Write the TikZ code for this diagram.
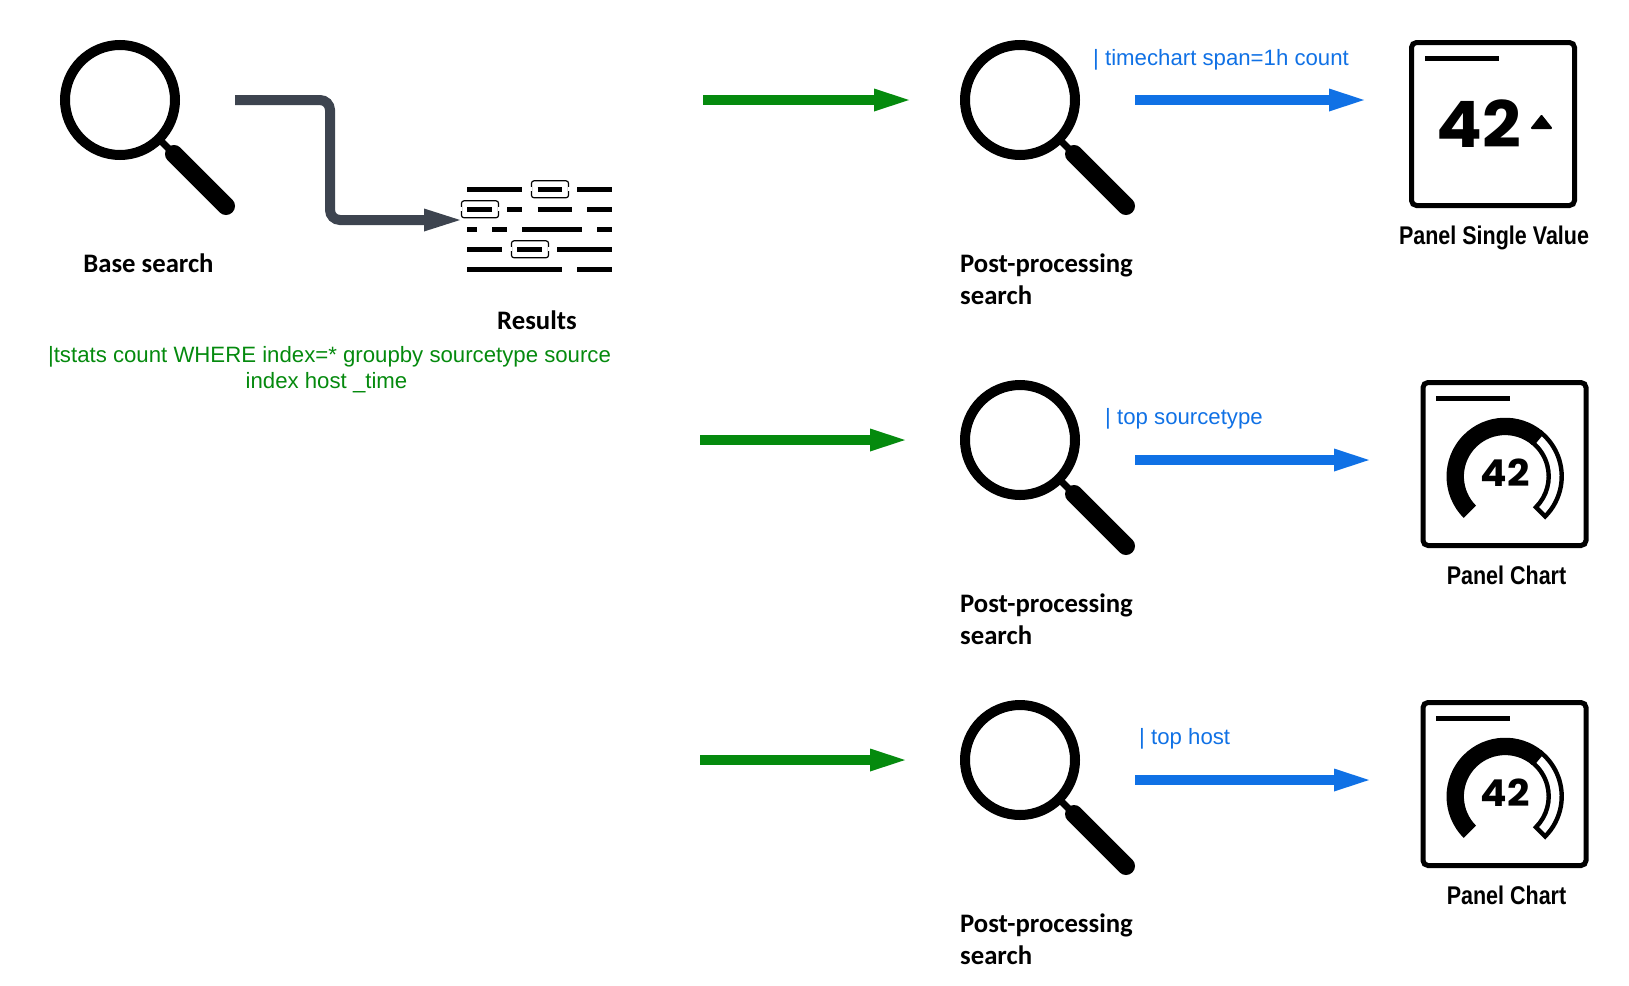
\documentclass[tikz,border=0pt]{standalone}
\usepackage{fontspec}
\usetikzlibrary{arrows.meta,shapes.misc}
\setmainfont{Liberation Sans}
\newfontfamily\carlitofont{Carlito}
\newfontfamily\narrowfont[FakeStretch=.84]{Liberation Sans}
\newfontfamily\digitfont[FakeStretch=1.06]{Poppins}
\definecolor{flowgreen}{HTML}{058A0E}
\definecolor{flowblue}{HTML}{1071E5}
\definecolor{flowgray}{HTML}{3D444F}
\tikzset{
  lensring/.style={circle, draw, line width=10, inner sep=0, minimum size=110},
  textbar/.style={line width=5},
  hitbox/.style={draw, line width=1.2, rounded corners=2.5, inner sep=0, minimum width=37, minimum height=17},
  greenflow/.style={draw=flowgreen, line width=10, -{Triangle[length=35,width=23,line width=0pt,fill=flowgreen]}},
  blueflow/.style={draw=flowblue, line width=10, -{Triangle[length=35,width=23,line width=0pt,fill=flowblue]}},
  grayflow/.style={draw=flowgray, line width=10, rounded corners=10, -{Triangle[length=36,width=23,line width=0pt,fill=flowgray]}},
  tilelabel/.style={font=\carlitofont\bfseries\fontsize{26.7}{32}\selectfont, align=left, inner sep=0},
  panellabel/.style={font=\narrowfont\bfseries\fontsize{25.6}{30}\selectfont, inner sep=0},
  cmdgreen/.style={text=flowgreen, font=\fontsize{22.2}{26}\selectfont, align=center, inner sep=0},
  cmdblue/.style={text=flowblue, font=\fontsize{22.2}{26}\selectfont, inner sep=0},
  panelbox/.style={draw, line width=5, rounded corners=5, inner sep=0, minimum size=163},
}
\begin{document}
\begin{tikzpicture}[x=1pt,y=-1pt]
\useasboundingbox (0,0) rectangle (1629,985);
% magnifiers
\foreach \n/\x/\y in {base/120/100, postA/1020/100, postB/1020/440, postC/1020/760} {
  \node (ring\n) [lensring] at (\x,\y) {};
  \path [draw, line width=7] (\x+38,\y+38) -- (\x+54,\y+54);
  \path [draw, line width=18, line cap=round] (\x+54,\y+54) -- (\x+106,\y+106);
}
% text lines of the results
\foreach \y/\a/\b in {189/467/522, 189/577/612, 189/537.5/562,
                      209/467/492, 209/507/522, 209/537.5/572, 209/587/612,
                      229/467/477, 229/492/507, 229/522/582, 229/597/612,
                      249/467/502, 249/517/542, 249/557/612,
                      269/467/562, 269/577/612} {
  \path [draw, textbar] (\a,\y+.3) -- (\b,\y+.3);
}
\node (hitA) [hitbox] at (550,189.3) {};
\node (hitB) [hitbox] at (480,209.3) {};
\node (hitC) [hitbox] at (530,249.3) {};
\foreach \h in {hitA, hitB, hitC} {
  \path [draw=white, line width=2] ([yshift=2]\h.west) -- ([yshift=-2]\h.west);
  \path [draw=white, line width=2] ([yshift=2]\h.east) -- ([yshift=-2]\h.east);
}
% arrows
\coordinate (baseout) at (235,100);
\coordinate (elbow) at (330,160);
\coordinate (resultsin) at (460,220);
\path [draw, grayflow] (baseout) -| (elbow) |- (resultsin);
\foreach \n/\a/\b/\y in {A/703/909/100, B/700/905/440, C/700/905/760} {
  \coordinate (from\n) at (\a,\y);
  \coordinate (to\n) at (\b,\y);
  \path [draw, greenflow] (from\n) -- (to\n);
}
\foreach \n/\b/\y in {A/1364/100, B/1369/460, C/1369/780} {
  \coordinate (out\n) at (1135,\y);
  \coordinate (panel\n) at (\b,\y);
  \path [draw, blueflow] (out\n) -- (panel\n);
}
% labels
\node (baselabel) [tilelabel] at (148.5,263.2) {Base search};
\node (resultslabel) [tilelabel] at (537,320) {Results};
\node (postlabelA) [tilelabel, anchor=west] at (960,279.2) {Post-processing\\search};
\node (postlabelB) [tilelabel, anchor=west] at (960,619.2) {Post-processing\\search};
\node (postlabelC) [tilelabel, anchor=west] at (960,939.2) {Post-processing\\search};
\node (basecmd) [cmdgreen] at (329.5,369.5) {|tstats count WHERE index=* groupby sourcetype source\\index host \_time\hspace*{6pt}};
\node (cmdA) [cmdblue, anchor=west] at (1093,59.5) {| timechart span=1h count};
\node (cmdB) [cmdblue, anchor=west] at (1105,419) {| top sourcetype};
\node (cmdC) [cmdblue, anchor=west] at (1139,739) {| top host};
% panels
\node (valuebox) [panelbox] at (1493,124) {};
\path [draw, textbar] (1425,58.5) -- (1499,58.5);
\node (valuetext) [inner sep=0, font=\digitfont\bfseries\fontsize{64}{64}\selectfont] at (1479,124) {42};
\path [fill, draw, line width=2, line join=round] (1532,128) -- (1551,128) -- (1541.5,116) -- cycle;
\node (valuelabel) [panellabel] at (1494,237.5) {Panel Single Value};
\foreach \n/\y in {B/464, C/784} {
  \node (chartbox\n) [panelbox] at (1504.5,\y) {};
  \path [draw, textbar] (1436,\y-65.5) -- (1510,\y-65.5);
  \begin{scope}[shift={(1505.2,\y+12.4)}]
    \path [fill] (135:58.7) arc [start angle=135, end angle=310, radius=58.7]
      -- (310:41.3) arc [start angle=310, end angle=135, radius=41.3] -- cycle;
    \path [draw, line width=4.4] (310:56.5) arc [start angle=310, end angle=405, radius=56.5]
      -- (405:43.5) arc [start angle=405, end angle=310, radius=43.5] -- cycle;
  \end{scope}
  \node (charttext\n) [inner sep=0, font=\digitfont\bfseries\fontsize{37}{37}\selectfont] at (1505,\y+9) {42};
  \node (chartlabel\n) [panellabel] at (1506.5,\y+111.2) {Panel Chart};
}
\end{tikzpicture}
\end{document}
